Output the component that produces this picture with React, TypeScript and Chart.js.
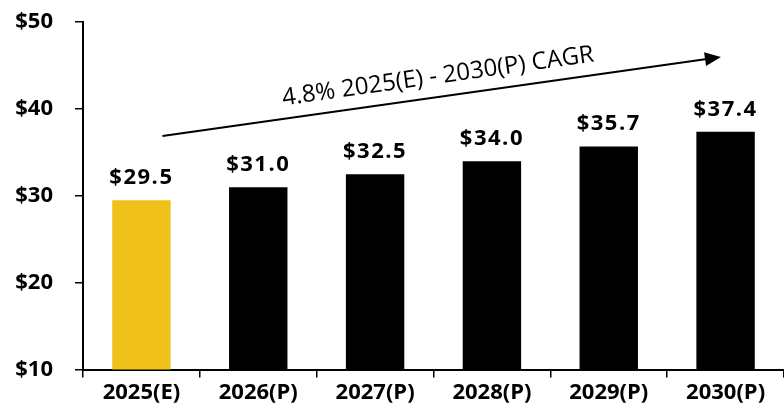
import React, { useEffect, useRef } from "react";
import { Chart, registerables } from "chart.js";

Chart.register(...registerables);

const categories = ["2025(E)", "2026(P)", "2027(P)", "2028(P)", "2029(P)", "2030(P)"];
const values = [29.5, 31.0, 32.5, 34.0, 35.7, 37.4];
const barColors = ["#F0C11A", "#000000", "#000000", "#000000", "#000000", "#000000"];
const yTicks = [10, 20, 30, 40, 50];
const cagrText = "4.8% 2025(E) - 2030(P) CAGR";
// arrow in data space: [category index offset, value]
const arrowStart = [0.18, 36.9];
const arrowEnd = [4.96, 46.0];

const FONT = "'Open Sans', 'DejaVu Sans', sans-serif";

const overlayPlugin = {
  id: "overlay",
  afterDatasetsDraw(chart: any) {
    const ctx = chart.ctx;
    const x = chart.scales.x;
    const y = chart.scales.y;
    const meta = chart.getDatasetMeta(0);
    ctx.save();
    ctx.fillStyle = "#000";
    ctx.font = `bold 22px ${FONT}`;
    ctx.textAlign = "center";
    ctx.textBaseline = "alphabetic";
    (ctx as any).letterSpacing = "1.5px";
    meta.data.forEach((bar: any, i: number) => {
      ctx.fillText("$" + values[i].toFixed(1), bar.x, bar.y - 16);
    });
    (ctx as any).letterSpacing = "0px";

    const x1 = x.getPixelForValue(arrowStart[0]);
    const y1 = y.getPixelForValue(arrowStart[1]);
    const x2 = x.getPixelForValue(arrowEnd[0]);
    const y2 = y.getPixelForValue(arrowEnd[1]);
    const ang = Math.atan2(y2 - y1, x2 - x1);
    const headLen = 16;
    const headW = 7;
    ctx.strokeStyle = "#000";
    ctx.lineWidth = 2;
    ctx.beginPath();
    ctx.moveTo(x1, y1);
    ctx.lineTo(x2 - headLen * Math.cos(ang), y2 - headLen * Math.sin(ang));
    ctx.stroke();
    ctx.beginPath();
    ctx.moveTo(x2, y2);
    ctx.lineTo(
      x2 - headLen * Math.cos(ang) + headW * Math.sin(ang),
      y2 - headLen * Math.sin(ang) - headW * Math.cos(ang)
    );
    ctx.lineTo(
      x2 - headLen * Math.cos(ang) - headW * Math.sin(ang),
      y2 - headLen * Math.sin(ang) + headW * Math.cos(ang)
    );
    ctx.closePath();
    ctx.fill();

    const mx = (x1 + x2) / 2 - 2;
    const my = (y1 + y2) / 2 - 8;
    ctx.translate(mx, my);
    ctx.rotate(ang);
    ctx.font = `24px ${FONT}`;
    ctx.textAlign = "center";
    ctx.textBaseline = "bottom";
    ctx.fillText(cagrText, 0, 0);
    ctx.restore();
  },
};

export default function App() {
  const ref = useRef<HTMLCanvasElement | null>(null);
  useEffect(() => {
    document.body.style.margin = "0";
    const chart = new Chart(ref.current!, {
      type: "bar",
      data: {
        labels: categories,
        datasets: [
          {
            data: values,
            backgroundColor: barColors,
            barPercentage: 0.5,
            categoryPercentage: 1,
          },
        ],
      },
      options: {
        responsive: false,
        animation: false,
        devicePixelRatio: 1,
        layout: { padding: { top: 0, right: 0, left: 0, bottom: 5 } },
        plugins: { legend: { display: false }, tooltip: { enabled: false } },
        scales: {
          x: {
            grid: {
              display: true,
              drawOnChartArea: false,
              drawTicks: true,
              tickLength: 8,
              color: "#000",
              lineWidth: 1.5,
            },
            border: { display: true, color: "#000", width: 2 },
            ticks: {
              color: "#000",
              font: { family: FONT, size: 22, weight: "bold" },
              padding: 2,
            },
          },
          y: {
            min: 10,
            max: 50,
            afterBuildTicks(scale: any) {
              scale.ticks = yTicks.map((v) => ({ value: v }));
            },
            afterFit(scale: any) {
              scale.width = 83;
            },
            grid: {
              display: true,
              drawOnChartArea: false,
              drawTicks: true,
              tickLength: 8,
              color: "#000",
              lineWidth: 1.5,
            },
            border: { display: true, color: "#000", width: 2 },
            ticks: {
              color: "#000",
              font: { family: FONT, size: 22, weight: "bold" },
              padding: 22,
              callback: (v: any) => "$" + v,
            },
          },
        },
      },
      plugins: [overlayPlugin],
    });
    return () => chart.destroy();
  }, []);
  return (
    <div style={{ width: 784, height: 413, overflow: "hidden" }}>
      <canvas
        ref={ref}
        width={784}
        height={426}
        style={{ display: "block", marginTop: -13 }}
      />
    </div>
  );
}
